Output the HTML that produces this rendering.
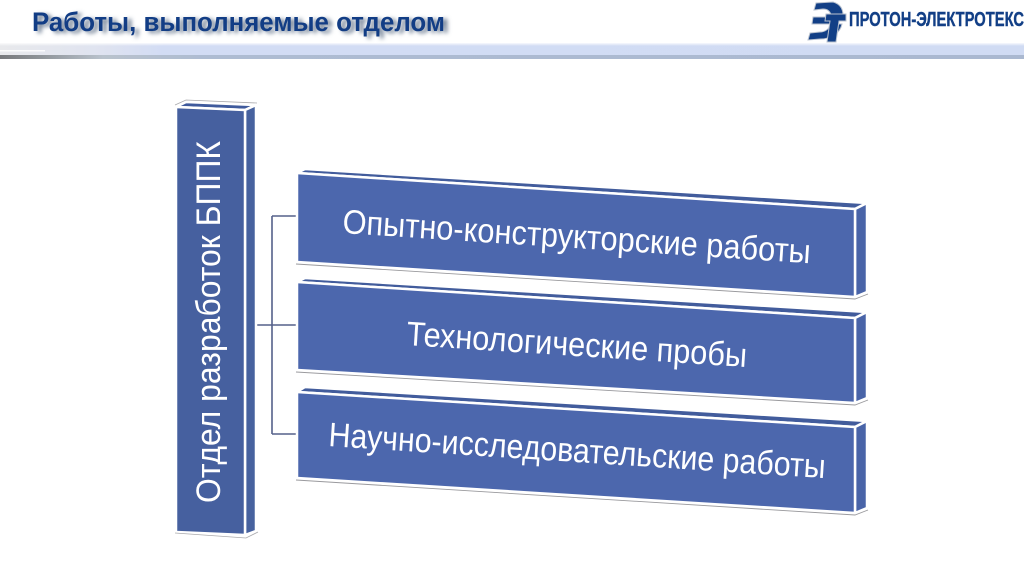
<!DOCTYPE html>
<html lang="ru"><head><meta charset="utf-8"><style>
html,body{margin:0;padding:0;background:#fff}
svg{display:block}
text{font-family:"Liberation Sans",sans-serif}
.t{fill:#fff;font-size:34px}
</style></head><body>
<svg width="1024" height="574" viewBox="0 0 1024 574" xmlns="http://www.w3.org/2000/svg">
<defs>
<linearGradient id="g1" x1="0" x2="1" y1="0" y2="0"><stop offset="0" stop-color="#e8e9ec"/><stop offset=".1" stop-color="#dfe3f0"/><stop offset=".16" stop-color="#d2dcf4"/><stop offset="1" stop-color="#d0dbf3"/></linearGradient>
<linearGradient id="g2" x1="0" x2="1" y1="0" y2="0"><stop offset="0" stop-color="#77797c"/><stop offset=".04" stop-color="#8f9499"/><stop offset=".1" stop-color="#b9c2cc"/><stop offset=".2" stop-color="#aebcd2"/><stop offset="1" stop-color="#aab8d0"/></linearGradient>
<linearGradient id="v" x1="0" x2="0" y1="0" y2="1"><stop offset="0" stop-color="#fff" stop-opacity=".85"/><stop offset="1" stop-color="#fff" stop-opacity="0"/></linearGradient>
<filter id="sh" x="-5%" y="-30%" width="110%" height="170%"><feGaussianBlur stdDeviation="2"/></filter>
</defs>
<rect x="0" y="43" width="1024" height="12" fill="url(#g1)"/>
<rect x="0" y="43" width="1024" height="3" fill="url(#v)"/>
<rect x="0" y="55" width="1024" height="4" fill="url(#g2)"/>
<rect x="0" y="50" width="45" height="1.5" fill="#fff" opacity=".8"/>
<text x="34" y="31" font-size="27" font-weight="bold" fill="#6a7a90" filter="url(#sh)" transform="translate(2 2)" textLength="413" lengthAdjust="spacingAndGlyphs">Работы, выполняемые отделом</text>
<text x="32" y="31" font-size="27" font-weight="bold" fill="#123d85" textLength="413" lengthAdjust="spacingAndGlyphs">Работы, выполняемые отделом</text>
<g fill="#123f86" stroke="#b9c2cf" stroke-width="1">
<path d="M816 3L833 2C840 4 843 9 843 15L831 15C830 11 827 9 823 9L814 10Z"/>
<path d="M813 17H831V24H812Z"/>
<path d="M810 33L820 32C825 32 829 29 831 24L842 24C840 34 830 39 820 39L808 40Z"/>
<path d="M826 14H846V21H839L836 42H827L830 21H825Z"/>
</g>
<text x="849" y="26" font-size="20" font-weight="bold" fill="#123f86" stroke="#123f86" stroke-width=".4" textLength="175" lengthAdjust="spacingAndGlyphs">ПРОТОН-ЭЛЕКТРОТЕКС</text>
<path d="M256 325H297M272 216V434M272 216H297M272 434H297" fill="none" stroke="#55618a" stroke-width="1.6"/>
<g stroke="#fff" stroke-width="2.5" stroke-linejoin="round">
<path d="M176 107L186 102L256 105L245 110Z" fill="#3f5a9c"/>
<path d="M245 110L256 105V531L245 535Z" fill="#47629f"/>
<path d="M176 107L245 110V535L176 532Z" fill="#46609f"/>
</g>
<path d="M175 105L186 100L257 103M175 533L246 538L258 532" fill="none" stroke="#55555c" stroke-width=".8" opacity=".5"/>
<g stroke="#fff" stroke-width="2.5" stroke-linejoin="round">
<path d="M297 173L305 169L867 203L855 209Z" fill="#425c9c"/><path d="M855 209L867 203V292L855 297Z" fill="#4964a8"/><path d="M297 173L855 209V297L297 262Z" fill="#4c67ad"/>
<path d="M297 282L305 278L867 312L855 318Z" fill="#425c9c"/><path d="M855 318L867 312V398L855 403Z" fill="#4964a8"/><path d="M297 282L855 318V403L297 370Z" fill="#4c67ad"/>
<path d="M297 392L305 387L867 421L855 427Z" fill="#425c9c"/><path d="M855 427L867 421V508L855 513Z" fill="#4964a8"/><path d="M297 392L855 427V513L297 478Z" fill="#4c67ad"/>
</g>
<path d="M296 264L855 299L868 294M296 372L855 405L868 400M296 480L855 515L868 510" fill="none" stroke="#55555c" stroke-width=".9" opacity=".6"/>
<text class="t" transform="translate(342 233) rotate(3.7)" textLength="469" lengthAdjust="spacingAndGlyphs">Опытно-конструкторские работы</text>
<text class="t" transform="translate(406 345) rotate(3.7)" textLength="341" lengthAdjust="spacingAndGlyphs">Технологические пробы</text>
<text class="t" transform="translate(328 446) rotate(3.7)" textLength="498" lengthAdjust="spacingAndGlyphs">Научно-исследовательские работы</text>
<text class="t" transform="translate(220 503) rotate(-90)" textLength="362" lengthAdjust="spacingAndGlyphs">Отдел разработок БППК</text>
</svg>
</body></html>
